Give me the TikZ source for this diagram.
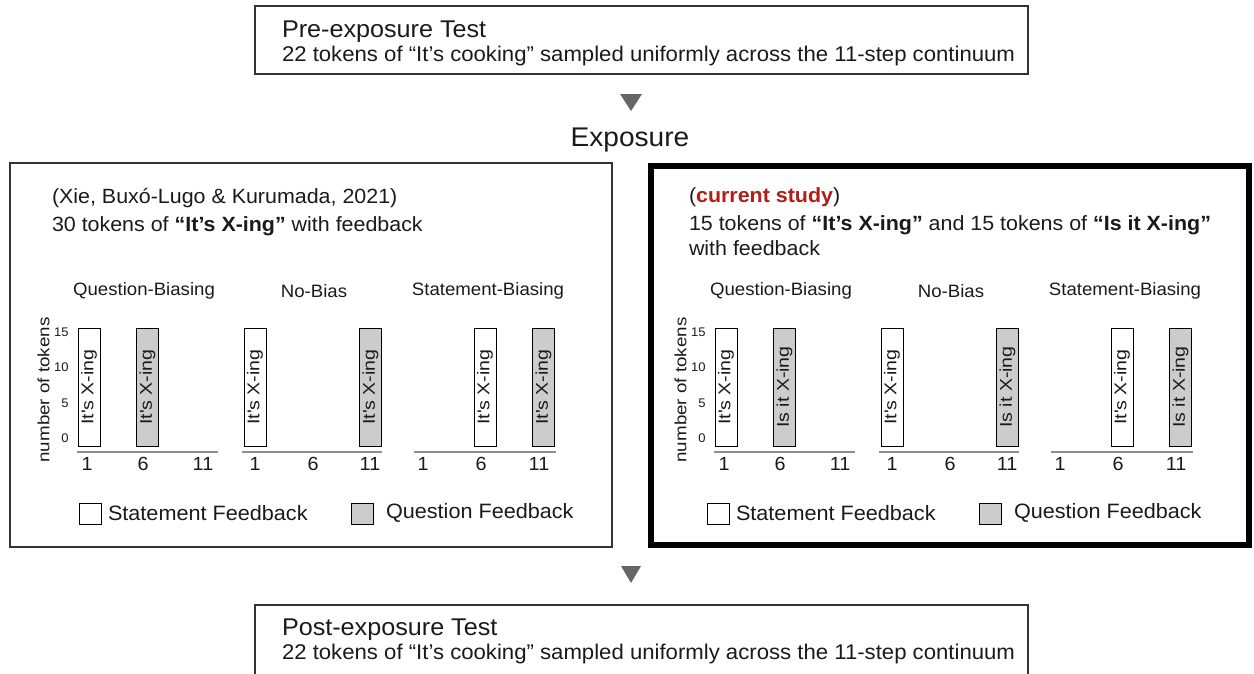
\documentclass[tikz,border=0pt]{standalone}
\usepackage{fontspec}
\setmainfont{Liberation Sans}[FakeStretch=1.04]
\newfontfamily\rotsf{Liberation Sans}[FakeStretch=1.15]
\newcommand{\myfs}[1]{\fontsize{#1}{#1}\selectfont}
\definecolor{txt}{HTML}{1A1A1A}
\definecolor{boxline}{HTML}{333333}
\definecolor{barfill}{HTML}{CCCCCC}
\definecolor{arrowgrey}{HTML}{666666}
\definecolor{axisgrey}{HTML}{8E8E8E}
\definecolor{studyred}{HTML}{B01E17}
\tikzset{
  every node/.style={text=txt, inner sep=0pt, outer sep=0pt},
  thinbox/.style={draw=boxline, line width=1.2pt, anchor=north west},
  thickbox/.style={draw=black, line width=6pt, anchor=north west},
  bigtitle/.style={anchor=base west, font=\myfs{24.2}},
  bigdesc/.style={anchor=base west, font=\myfs{21.3}},
  paneltext/.style={anchor=base west, font=\myfs{20.6}},
  ptitle/.style={font=\myfs{17.9}},
  wbar/.style={draw=black, line width=1pt, fill=white, rotate=90, minimum width=118pt, minimum height=22pt, font=\rotsf\myfs{17}},
  gbar/.style={wbar, fill=barfill},
  axisline/.style={draw=axisgrey, line width=2pt},
  ticklab/.style={font=\myfs{19}},
  ylab/.style={font=\myfs{12.5}, anchor=east},
  ylabrot/.style={font=\rotsf\myfs{16.3}, rotate=90},
  legbox/.style={draw=black, line width=1pt, minimum width=22pt, minimum height=21pt},
  legtext/.style={font=\myfs{20.8}, anchor=west},
  arrowtri/.style={fill=arrowgrey},
}
\newcommand{\mypanel}[3]{%
\begin{scope}[xshift=#2]
  \node[ptitle] (#1-t1) at (144,291) {Question-Biasing};
  \node[ptitle] (#1-t2) at (314,291) {No-Bias};
  \node[ptitle] (#1-t3) at (488,291) {Statement-Biasing};
  \node[ylabrot] (#1-ylab) at (43.5,390) {number of tokens};
  \node[ylab] (#1-y15) at (68.5,332) {15};
  \node[ylab] (#1-y10) at (68.5,367) {10};
  \node[ylab] (#1-y5) at (68.5,403) {5};
  \node[ylab] (#1-y0) at (68.5,438) {0};
  % panel A: question-biasing
  \node[wbar] (#1-a1) at (89,387) {It\textquotesingle s X-ing};
  \node[gbar] (#1-a2) at (147.5,387) {#3};
  \coordinate (#1-as) at (77,452);
  \coordinate (#1-ae) at (218,452);
  \draw[axisline] (#1-as) -- (#1-ae);
  \node[ticklab] (#1-a-l1) at (87,464) {1};
  \node[ticklab] (#1-a-l6) at (143,464) {6};
  \node[ticklab] (#1-a-l11) at (203,464) {11};
  % panel B: no bias
  \node[wbar] (#1-b1) at (255,387) {It\textquotesingle s X-ing};
  \node[gbar] (#1-b2) at (370.5,387) {#3};
  \coordinate (#1-bs) at (242,452);
  \coordinate (#1-be) at (382,452);
  \draw[axisline] (#1-bs) -- (#1-be);
  \node[ticklab] (#1-b-l1) at (255,464) {1};
  \node[ticklab] (#1-b-l6) at (313,464) {6};
  \node[ticklab] (#1-b-l11) at (370,464) {11};
  % panel C: statement biasing
  \node[wbar] (#1-c1) at (485,387) {It\textquotesingle s X-ing};
  \node[gbar] (#1-c2) at (543.5,387) {#3};
  \coordinate (#1-cs) at (414,452);
  \coordinate (#1-ce) at (556,452);
  \draw[axisline] (#1-cs) -- (#1-ce);
  \node[ticklab] (#1-c-l1) at (423,464) {1};
  \node[ticklab] (#1-c-l6) at (481,464) {6};
  \node[ticklab] (#1-c-l11) at (539,464) {11};
\end{scope}}
\newcommand{\mylegend}[2]{%
\begin{scope}[xshift=#2]
  \node[legbox, fill=white] (#1-lw) at (90,513.5) {};
  \node[legtext] (#1-lwt) at (108,513) {Statement Feedback};
  \node[legbox, fill=barfill] (#1-lg) at (362.5,513.5) {};
  \node[legtext] (#1-lgt) at (386,513) {Question Feedback};
\end{scope}}
\begin{document}
\begin{tikzpicture}[x=1pt, y=-1pt]
\useasboundingbox (0,0) rectangle (1254,673);
% pre-exposure test
\node[thinbox, minimum width=773pt, minimum height=68pt] (prebox) at (255,6) {};
\node[bigtitle] (pretitle) at (282,37) {Pre-exposure Test};
\node[bigdesc] (predesc) at (282,61) {22 tokens of “It’s cooking” sampled uniformly across the 11-step continuum};
% arrow 1
\fill[arrowtri] (620,94) -- (642,94) -- (631,111) -- cycle;
\node[anchor=base, font=\myfs{27}] (expo) at (630,146) {Exposure};
% left panel
\node[thinbox, minimum width=602pt, minimum height=384pt] (leftbox) at (10,163) {};
\node[paneltext] (lcite) at (52,203) {(Xie, Buxó-Lugo \& Kurumada, 2021)};
\node[paneltext] (ldesc) at (52,231) {30 tokens of \textbf{“It’s X-ing”} with feedback};
\mypanel{L}{0pt}{It\textquotesingle s X-ing}
\mylegend{L}{0pt}
% right panel
\node[thickbox, minimum width=598pt, minimum height=379pt] (rightbox) at (651,166) {};
\node[paneltext] (rcite) at (689,202) {(\textcolor{studyred}{\textbf{current study}})};
\node[paneltext] (rdesc) at (689,230) {15 tokens of \textbf{“It’s X-ing”} and 15 tokens of \textbf{“Is it X-ing”}};
\node[paneltext] (rdesc2) at (689,255) {with feedback};
\mypanel{R}{637pt}{Is it X-ing}
\mylegend{R}{628pt}
% arrow 2
\fill[arrowtri] (621,566) -- (641,566) -- (631,583) -- cycle;
% post-exposure test
\begin{scope}
\clip (0,0) rectangle (1254,673);
\node[thinbox, minimum width=773pt, minimum height=90pt] (postbox) at (255,605) {};
\end{scope}
\node[bigtitle] (posttitle) at (282,635) {Post-exposure Test};
\node[bigdesc] (postdesc) at (282,659.5) {22 tokens of “It’s cooking” sampled uniformly across the 11-step continuum};
\end{tikzpicture}
\end{document}
